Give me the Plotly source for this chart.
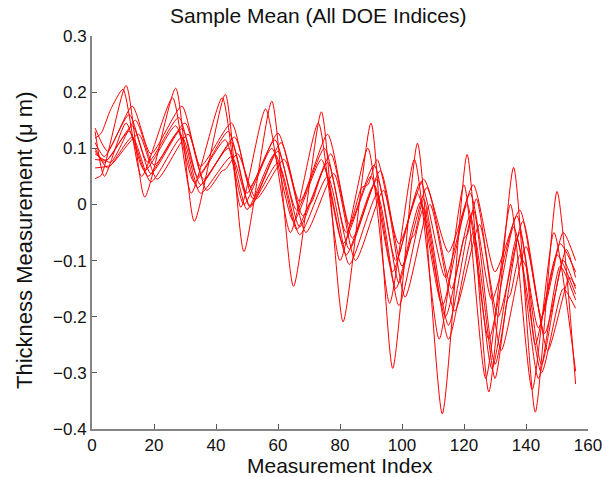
import plotly.graph_objects as go

s0_x = [1, 3, 11, 17, 27, 33, 43, 49, 58, 65, 74, 81, 90, 97, 105, 113, 121, 128, 136, 143, 150, 156]
s0_y = [0.046, 0.052, 0.212, 0.013, 0.207, -0.03, 0.196, -0.084, 0.184, -0.146, 0.165, -0.209,
        0.145, -0.292, 0.109, -0.373, 0.089, -0.334, 0.066, -0.37, 0.023, -0.32]

s1_x = [1, 3, 6, 10, 16, 26, 32, 42, 48, 56, 64, 73, 80, 89, 96, 104, 112, 120, 127, 135, 142, 149, 156]
s1_y = [0.118, 0.127, 0.169, 0.205, 0.05, 0.19, 0.02, 0.19, -0.005, 0.17, -0.05, 0.145, -0.1,
        0.1, -0.176, 0.08, -0.24, 0.035, -0.31, 0.0, -0.33, -0.05, -0.297]

s2_x = [1, 5, 13, 19, 29, 35, 45, 51, 60, 67, 76, 83, 87, 89, 92, 99, 107, 115, 123, 130, 138, 145, 152, 156]
s2_y = [0.136, 0.095, 0.175, 0.09, 0.175, 0.068, 0.145, 0.032, 0.127, 0.005, 0.125, -0.036,
        0.03, 0.035, 0.08, -0.07, 0.045, -0.085, 0.035, -0.12, -0.01, -0.2, -0.05, -0.1]

s3_x = [1, 4, 12, 18, 28, 34, 44, 50, 59, 66, 75, 82, 91, 98, 106, 114, 122, 129, 137, 144, 151, 156]
s3_y = [0.11, 0.085, 0.16, 0.075, 0.155, 0.05, 0.13, 0.02, 0.115, -0.01, 0.1, -0.05,
        0.07, -0.1, 0.04, -0.13, 0.02, -0.17, -0.02, -0.22, -0.07, -0.12]

s4_x = [1, 6, 14, 20, 30, 36, 46, 52, 61, 68, 77, 84, 93, 100, 108, 116, 120, 121, 124, 131, 139, 146, 153, 156]
s4_y = [0.09, 0.075, 0.15, 0.07, 0.145, 0.045, 0.12, 0.01, 0.11, -0.02, 0.09, -0.06,
        0.06, -0.11, 0.03, -0.15, -0.06, -0.055, 0.01, -0.2, -0.03, -0.23, -0.08, -0.13]

s5_x = [1, 4, 11, 17, 27, 33, 43, 49, 58, 65, 74, 81, 90, 97, 105, 113, 121, 128, 136, 139, 140, 143, 150, 156]
s5_y = [0.13, 0.05, 0.145, 0.06, 0.14, 0.04, 0.115, 0.0, 0.1, -0.03, 0.08, -0.07,
        0.05, -0.12, 0.02, -0.18, 0.0, -0.24, -0.04, -0.1, -0.11, -0.25, -0.09, -0.16]

s6_x = [1, 5, 13, 19, 29, 35, 45, 51, 60, 67, 76, 83, 92, 99, 103, 104, 107, 115, 123, 130, 138, 145, 152, 156]
s6_y = [0.08, 0.08, 0.14, 0.055, 0.135, 0.035, 0.11, -0.005, 0.095, -0.04, 0.075, -0.08,
        0.045, -0.14, -0.06, -0.055, 0.01, -0.215, -0.01, -0.285, -0.05, -0.285, -0.1, -0.15]

s7_x = [1, 4, 12, 18, 28, 34, 44, 50, 59, 66, 70, 71, 75, 82, 91, 98, 106, 114, 122, 129, 137, 144, 151, 156]
s7_y = [0.095, 0.075, 0.13, 0.05, 0.13, 0.03, 0.1, -0.009, 0.09, -0.045, 0.0, 0.005, 0.065, -0.09,
        0.035, -0.15, 0.005, -0.2, -0.02, -0.293, -0.06, -0.31, -0.11, -0.17]

s8_x = [1, 6, 15, 21, 31, 37, 42, 43, 47, 53, 62, 69, 78, 85, 94, 101, 109, 117, 125, 132, 140, 147, 154, 156]
s8_y = [0.065, 0.07, 0.125, 0.045, 0.125, 0.025, 0.06, 0.062, 0.09, 0.01, 0.08, -0.05, 0.055, -0.1,
        0.025, -0.165, 0.0, -0.19, -0.036, -0.26, -0.075, -0.26, -0.13, -0.145]

s9_x = [1, 5, 13, 19, 29, 35, 45, 51, 60, 67, 76, 83, 92, 99, 107, 115, 123, 130, 134, 135, 138, 145, 152, 156]
s9_y = [0.1, 0.065, 0.12, 0.04, 0.12, 0.02, 0.085, -0.002, 0.074, -0.054, 0.05, -0.107,
        0.018, -0.18, -0.007, -0.24, -0.05, -0.31, -0.17, -0.16, -0.09, -0.3, -0.15, -0.185]

series = [(s0_x, s0_y), (s1_x, s1_y), (s2_x, s2_y), (s3_x, s3_y), (s4_x, s4_y),
          (s5_x, s5_y), (s6_x, s6_y), (s7_x, s7_y), (s8_x, s8_y), (s9_x, s9_y)]

x_ticks = [0, 20, 40, 60, 80, 100, 120, 140, 160]
y_ticks = [-0.4, -0.3, -0.2, -0.1, 0, 0.1, 0.2, 0.3]

fig = go.Figure()
for xs, ys in series:
    fig.add_trace(go.Scatter(x=xs, y=ys, mode="lines",
                             line=dict(color="#ff0000", width=1, shape="spline", smoothing=0.6),
                             hoverinfo="skip"))

font_family = "Liberation Sans, Arial, sans-serif"
axis_common = dict(showgrid=False, zeroline=False, showline=True, linecolor="#858585",
                   linewidth=2, ticks="inside", ticklen=5, tickwidth=1, tickcolor="#555555",
                   mirror=False, ticklabeloverflow="allow", automargin=False,
                   tickfont=dict(family=font_family, size=17, color="#111111"))

fig.update_layout(
    width=602, height=477,
    margin=dict(l=92, r=14, t=36, b=48, autoexpand=False),
    plot_bgcolor="white", paper_bgcolor="white",
    showlegend=False,
    xaxis=dict(range=[0, 160], tickvals=x_ticks, **axis_common),
    yaxis=dict(range=[-0.4, 0.3], tickvals=y_ticks, **axis_common),
    annotations=[
        dict(text="Sample Mean (All DOE Indices)", xref="paper", yref="paper",
             x=0.456, y=1.051, xanchor="center", yanchor="middle", showarrow=False,
             font=dict(family=font_family, size=21, color="#111111")),
        dict(text="Measurement Index", xref="paper", yref="paper",
             x=0.5, y=-0.092, xanchor="center", yanchor="middle", showarrow=False,
             font=dict(family=font_family, size=21, color="#111111")),
        dict(text="Thickness Measurement (\u03bc m)", xref="paper", yref="paper",
             x=-0.135, y=0.481, xanchor="center", yanchor="middle", showarrow=False,
             textangle=-90,
             font=dict(family=font_family, size=22, color="#111111")),
    ],
)

fig.write_html("out.html")
